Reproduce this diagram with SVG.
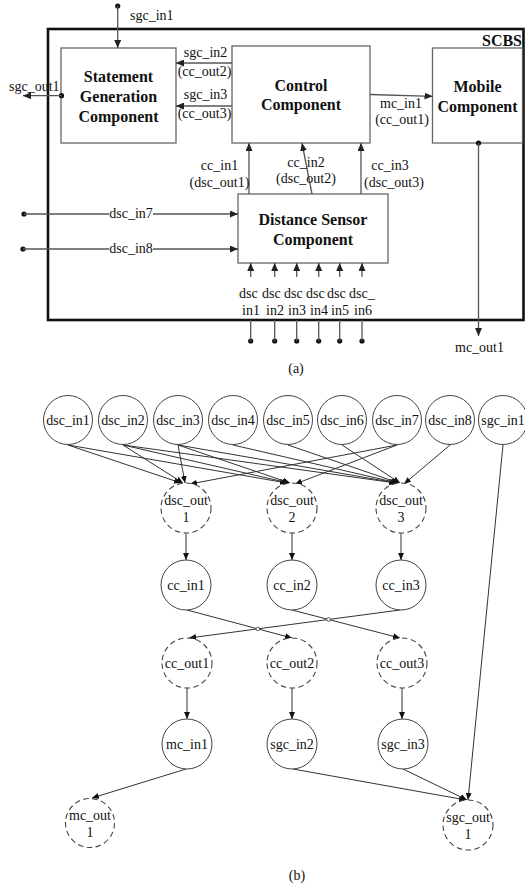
<svg xmlns="http://www.w3.org/2000/svg" width="525" height="890" viewBox="0 0 525 890">
<style>
text{font-family:"Liberation Serif","Times New Roman",serif;fill:#111}
.t{font-size:14px}
.m{text-anchor:middle}
.b{font-size:16px;font-weight:bold;text-anchor:middle}
.box{fill:#fff;stroke:#666;stroke-width:1.3}
.c{fill:none;stroke:#555;stroke-width:1.3}
.n{fill:#fff;stroke:#444;stroke-width:1}
.d{fill:#fff;stroke:#444;stroke-width:1.1;stroke-dasharray:5.5 3.5}
.e{fill:none;stroke:#333;stroke-width:1}
.h{fill:#fff;stroke:#333;stroke-width:0.8}
</style>
<defs>
<marker id="aa" markerUnits="userSpaceOnUse" markerWidth="9" markerHeight="7" refX="8" refY="3.5" orient="auto"><path d="M0,0 L8,3.5 L0,7 z" fill="#222"/></marker>
<marker id="ab" markerUnits="userSpaceOnUse" markerWidth="8" markerHeight="6" refX="7" refY="3" orient="auto"><path d="M0,0 L7,3 L0,6 z" fill="#111"/></marker>
</defs>
<rect width="525" height="890" fill="#fff"/>

<!-- (a) -->
<g id="scbs">
<rect x="48" y="29" width="475.5" height="291" fill="none" stroke="#111" stroke-width="2.6"/>
<text class="b" x="502" y="46">SCBS</text>
</g>
<g id="sgc">
<rect class="box" x="61" y="48" width="115" height="95"/>
<text class="b" x="118.5" y="82">Statement</text>
<text class="b" x="118.5" y="102">Generation</text>
<text class="b" x="118.5" y="121.5">Component</text>
</g>
<g id="cc">
<rect class="box" x="232" y="46" width="138" height="97"/>
<text class="b" x="301" y="91">Control</text>
<text class="b" x="301" y="110">Component</text>
</g>
<g id="mc">
<rect class="box" x="432.5" y="48" width="90" height="95"/>
<text class="b" x="477.5" y="92">Mobile</text>
<text class="b" x="477.5" y="112">Component</text>
</g>
<g id="dsc">
<rect class="box" x="238" y="194" width="150" height="69"/>
<text class="b" x="313" y="225">Distance Sensor</text>
<text class="b" x="313" y="245">Component</text>
</g>

<g id="connectors-a">
<circle cx="117.7" cy="6" r="2.6" fill="#111"/>
<line class="c" x1="117.7" y1="6" x2="117.7" y2="48" marker-end="url(#aa)"/>
<text class="t" x="130" y="20">sgc_in1</text>

<circle cx="61.5" cy="95.7" r="2.6" fill="#111"/>
<line class="c" x1="61.5" y1="95.7" x2="23" y2="95.7" stroke-width="1.8" marker-end="url(#aa)"/>
<text class="t" x="9" y="91">sgc_out1</text>

<line class="c" x1="232" y1="63" x2="176" y2="63" marker-end="url(#aa)"/>
<text class="t m" x="205.5" y="57">sgc_in2</text>
<text class="t m" x="204.5" y="76">(cc_out2)</text>
<line class="c" x1="232" y1="106" x2="176" y2="106" marker-end="url(#aa)"/>
<text class="t m" x="205.5" y="99">sgc_in3</text>
<text class="t m" x="204.5" y="117.5">(cc_out3)</text>

<line class="c" x1="370" y1="94.5" x2="432.5" y2="96.3" marker-end="url(#aa)"/>
<text class="t m" x="401" y="107.5">mc_in1</text>
<text class="t m" x="402" y="124">(cc_out1)</text>

<circle cx="478.5" cy="143" r="2.6" fill="#111"/>
<line class="c" x1="478.5" y1="143" x2="478.5" y2="336" marker-end="url(#aa)"/>
<text class="t m" x="479.5" y="352">mc_out1</text>

<line class="c" x1="249" y1="194" x2="249" y2="143" marker-end="url(#aa)"/>
<text class="t m" x="219.5" y="170">cc_in1</text>
<text class="t m" x="219.5" y="187">(dsc_out1)</text>
<line class="c" x1="312" y1="194" x2="302" y2="143" marker-end="url(#aa)"/>
<text class="t m" x="306" y="166.5">cc_in2</text>
<text class="t m" x="306" y="183">(dsc_out2)</text>
<line class="c" x1="361" y1="194" x2="361" y2="143" marker-end="url(#aa)"/>
<text class="t m" x="390" y="170">cc_in3</text>
<text class="t m" x="394" y="187">(dsc_out3)</text>

<circle cx="24" cy="214" r="2.6" fill="#111"/>
<line class="c" x1="24" y1="214" x2="238" y2="214" marker-end="url(#aa)"/>
<rect x="109" y="204" width="44" height="17" fill="#fff"/>
<text class="t m" x="131" y="218">dsc_in7</text>
<circle cx="23" cy="249" r="2.6" fill="#111"/>
<line class="c" x1="23" y1="249" x2="238" y2="249" marker-end="url(#aa)"/>
<rect x="109" y="239" width="44" height="17" fill="#fff"/>
<text class="t m" x="131" y="253">dsc_in8</text>

<g>
<circle cx="250.7" cy="341" r="2.6" fill="#111"/><line class="c" x1="250.7" y1="341" x2="250.7" y2="320"/><line class="c" x1="250.7" y1="277" x2="250.7" y2="263" marker-end="url(#aa)"/>
<circle cx="274.7" cy="341" r="2.6" fill="#111"/><line class="c" x1="274.7" y1="341" x2="274.7" y2="320"/><line class="c" x1="274.7" y1="277" x2="274.7" y2="263" marker-end="url(#aa)"/>
<circle cx="296.7" cy="341" r="2.6" fill="#111"/><line class="c" x1="296.7" y1="341" x2="296.7" y2="320"/><line class="c" x1="296.7" y1="277" x2="296.7" y2="263" marker-end="url(#aa)"/>
<circle cx="318.7" cy="341" r="2.6" fill="#111"/><line class="c" x1="318.7" y1="341" x2="318.7" y2="320"/><line class="c" x1="318.7" y1="277" x2="318.7" y2="263" marker-end="url(#aa)"/>
<circle cx="339.7" cy="341" r="2.6" fill="#111"/><line class="c" x1="339.7" y1="341" x2="339.7" y2="320"/><line class="c" x1="339.7" y1="277" x2="339.7" y2="263" marker-end="url(#aa)"/>
<circle cx="362" cy="341" r="2.6" fill="#111"/><line class="c" x1="362" y1="341" x2="362" y2="320"/><line class="c" x1="362" y1="277" x2="362" y2="263" marker-end="url(#aa)"/>
<text class="t" x="239" y="297.5">dsc</text><text class="t" x="262" y="297.5">dsc</text><text class="t" x="284" y="297.5">dsc</text><text class="t" x="306" y="297.5">dsc</text><text class="t" x="327" y="297.5">dsc</text><text class="t" x="349" y="297.5">dsc_</text>
<text class="t m" x="251" y="315">in1</text><text class="t m" x="275" y="315">in2</text><text class="t m" x="297" y="315">in3</text><text class="t m" x="319" y="315">in4</text><text class="t m" x="340" y="315">in5</text><text class="t m" x="363" y="315">in6</text>
</g>
</g>
<text class="t m" x="296" y="373">(a)</text>

<!-- (b) -->
<g id="connectors-b">
<line class="e" x1="68" y1="445" x2="181" y2="483" marker-end="url(#ab)"/>
<line class="e" x1="68" y1="445" x2="287" y2="483" marker-end="url(#ab)"/>
<line class="e" x1="123" y1="445" x2="183" y2="483" marker-end="url(#ab)"/>
<line class="e" x1="123" y1="445" x2="289" y2="483" marker-end="url(#ab)"/>
<line class="e" x1="123" y1="445" x2="396" y2="483" marker-end="url(#ab)"/>
<line class="e" x1="178" y1="445" x2="185" y2="483" marker-end="url(#ab)"/>
<line class="e" x1="178" y1="445" x2="290" y2="483" marker-end="url(#ab)"/>
<line class="e" x1="178" y1="445" x2="397" y2="483" marker-end="url(#ab)"/>
<line class="e" x1="233" y1="445" x2="398" y2="483" marker-end="url(#ab)"/>
<line class="e" x1="288" y1="445" x2="399" y2="483" marker-end="url(#ab)"/>
<line class="e" x1="342" y1="445" x2="400" y2="483" marker-end="url(#ab)"/>
<line class="e" x1="397" y1="445" x2="190" y2="484" marker-end="url(#ab)"/>
<line class="e" x1="397" y1="445" x2="295" y2="484" marker-end="url(#ab)"/>
<line class="e" x1="450" y1="445" x2="404" y2="484" marker-end="url(#ab)"/>
<line class="e" x1="503" y1="445" x2="468" y2="800" marker-end="url(#ab)"/>

<line class="e" x1="186" y1="533" x2="186" y2="560" marker-end="url(#ab)"/>
<line class="e" x1="292" y1="533" x2="292" y2="560" marker-end="url(#ab)"/>
<line class="e" x1="401" y1="533" x2="401" y2="560" marker-end="url(#ab)"/>

<line class="e" x1="187" y1="610" x2="292" y2="638" marker-end="url(#ab)"/>
<line class="e" x1="292" y1="610" x2="400" y2="638" marker-end="url(#ab)"/>
<line class="e" x1="400" y1="610" x2="189" y2="638" marker-end="url(#ab)"/>
<circle class="h" cx="257.8" cy="628.9" r="1.8"/>
<circle class="h" cx="328.5" cy="619.5" r="1.8"/>

<line class="e" x1="187" y1="688" x2="187" y2="719" marker-end="url(#ab)"/>
<line class="e" x1="292" y1="688" x2="292" y2="719" marker-end="url(#ab)"/>
<line class="e" x1="402" y1="688" x2="402" y2="719" marker-end="url(#ab)"/>

<line class="e" x1="186" y1="769" x2="92" y2="798" marker-end="url(#ab)"/>
<line class="e" x1="293" y1="769" x2="466" y2="800" marker-end="url(#ab)"/>
<line class="e" x1="403" y1="769" x2="467" y2="800" marker-end="url(#ab)"/>
</g>

<g id="n-dsc_in1"><circle class="n" cx="68" cy="420" r="24.5"/><text class="t m" x="68" y="425">dsc_in1</text></g>
<g id="n-dsc_in2"><circle class="n" cx="123" cy="420" r="24.5"/><text class="t m" x="123" y="425">dsc_in2</text></g>
<g id="n-dsc_in3"><circle class="n" cx="178" cy="420" r="24.5"/><text class="t m" x="178" y="425">dsc_in3</text></g>
<g id="n-dsc_in4"><circle class="n" cx="233" cy="420" r="24.5"/><text class="t m" x="233" y="425">dsc_in4</text></g>
<g id="n-dsc_in5"><circle class="n" cx="288" cy="420" r="24.5"/><text class="t m" x="288" y="425">dsc_in5</text></g>
<g id="n-dsc_in6"><circle class="n" cx="342" cy="420" r="24.5"/><text class="t m" x="342" y="425">dsc_in6</text></g>
<g id="n-dsc_in7"><circle class="n" cx="397" cy="420" r="24.5"/><text class="t m" x="397" y="425">dsc_in7</text></g>
<g id="n-dsc_in8"><circle class="n" cx="450" cy="420" r="24.5"/><text class="t m" x="450" y="425">dsc_in8</text></g>
<g id="n-sgc_in1"><circle class="n" cx="503" cy="420" r="24.5"/><text class="t m" x="503" y="425">sgc_in1</text></g>

<g id="n-dsc_out1"><circle class="d" cx="186" cy="508" r="25"/><text class="t m" x="186" y="505">dsc_out</text><text class="t m" x="186" y="522">1</text></g>
<g id="n-dsc_out2"><circle class="d" cx="292" cy="508" r="25"/><text class="t m" x="292" y="505">dsc_out</text><text class="t m" x="292" y="522">2</text></g>
<g id="n-dsc_out3"><circle class="d" cx="401" cy="508" r="25"/><text class="t m" x="401" y="505">dsc_out</text><text class="t m" x="401" y="522">3</text></g>

<g id="n-cc_in1"><circle class="n" cx="186" cy="585" r="25"/><text class="t m" x="186" y="590">cc_in1</text></g>
<g id="n-cc_in2"><circle class="n" cx="292" cy="585" r="25"/><text class="t m" x="292" y="590">cc_in2</text></g>
<g id="n-cc_in3"><circle class="n" cx="401" cy="585" r="25"/><text class="t m" x="401" y="590">cc_in3</text></g>

<g id="n-cc_out1"><circle class="d" cx="187" cy="663" r="25"/><text class="t m" x="187" y="668">cc_out1</text></g>
<g id="n-cc_out2"><circle class="d" cx="292" cy="663" r="25"/><text class="t m" x="292" y="668">cc_out2</text></g>
<g id="n-cc_out3"><circle class="d" cx="402" cy="663" r="25"/><text class="t m" x="402" y="668">cc_out3</text></g>

<g id="n-mc_in1"><circle class="n" cx="187" cy="744" r="25"/><text class="t m" x="187" y="749">mc_in1</text></g>
<g id="n-sgc_in2"><circle class="n" cx="292" cy="744" r="25"/><text class="t m" x="292" y="749">sgc_in2</text></g>
<g id="n-sgc_in3"><circle class="n" cx="403" cy="744" r="25"/><text class="t m" x="403" y="749">sgc_in3</text></g>

<g id="n-mc_out1"><circle class="d" cx="90" cy="823" r="24.5"/><text class="t m" x="90" y="820">mc_out</text><text class="t m" x="90" y="837">1</text></g>
<g id="n-sgc_out1"><circle class="d" cx="468" cy="825" r="25"/><text class="t m" x="468" y="822">sgc_out</text><text class="t m" x="468" y="839">1</text></g>

<text class="t m" x="297" y="880">(b)</text>
</svg>
